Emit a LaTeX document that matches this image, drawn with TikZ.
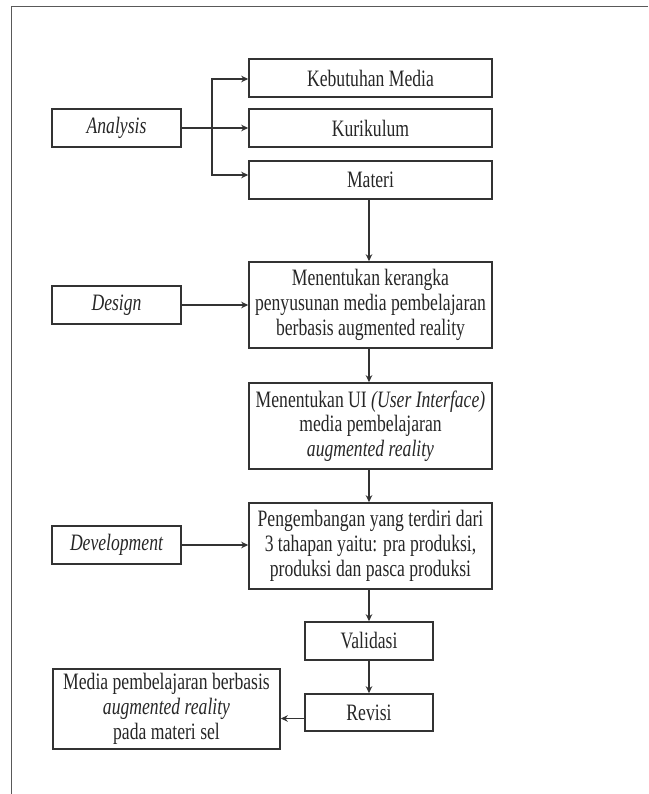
\documentclass[tikz,border=0pt]{standalone}
\usepackage{fontspec}
\setmainfont[FakeStretch=0.75]{Liberation Serif}
\usetikzlibrary{arrows.meta}
\begin{document}
\begin{tikzpicture}[x=1pt,y=-1pt,
  every node/.style={font=\fontsize{23.5pt}{24.7pt}\selectfont},
  box/.style={draw=black!80, line width=1.6pt, align=center, inner sep=1pt, text=black!85},
  sbox/.style={box, minimum width=129pt, minimum height=38pt},
  wbox/.style={box, minimum width=243pt, minimum height=38pt},
  tbox/.style={box, minimum width=243pt, minimum height=86pt},
  vbox/.style={box, minimum width=128pt, minimum height=38pt},
  conn/.style={draw=black!80, line width=1.6pt},
  arr/.style={conn, -{Stealth[length=7pt,width=6.5pt]}},
  frame/.style={draw=black!65, line width=1pt}]
\useasboundingbox (0,0) rectangle (648,794);
\coordinate (ftop) at (648,7);
\coordinate (fcorner) at (11,7);
\coordinate (fbot) at (11,794);
\draw[frame] (ftop) -- (fcorner) -- (fbot);

\node[sbox] (analysis) at (116.5,128) {\itshape Analysis};
\node[wbox] (keb) at (370.5,78) {Kebutuhan Media};
\node[wbox] (kur) at (370.5,128) {Kurikulum};
\node[wbox] (mat) at (370.5,180) {Materi};

\node[sbox] (design) at (116.5,305) {\itshape Design};
\node[tbox] (kerangka) at (370.5,305) {Menentukan kerangka\\penyusunan media pembelajaran\\berbasis augmented reality};
\node[tbox] (ui) at (370.5,426) {Menentukan UI \textit{(User Interface)}\\media pembelajaran\\\textit{augmented reality}};

\node[sbox] (dev) at (116.5,545) {\itshape Development};
\node[tbox] (peng) at (370.5,546) {Pengembangan yang terdiri dari\\3 tahapan yaitu: pra produksi,\\produksi dan pasca produksi};

\node[vbox] (val) at (369,641) {Validasi};
\node[vbox, minimum height=37pt] (rev) at (369,712.5) {Revisi};
\node[box, minimum width=227pt, minimum height=80pt] (final) at (166.5,709) {Media pembelajaran berbasis\\\textit{augmented reality}\\pada materi sel};

\coordinate (br) at (212,128);
\draw[arr] (analysis.east) -- (kur.west);
\draw[arr] (br) |- ([yshift=-1pt]keb.west);
\draw[arr] (br) |- ([yshift=5pt]mat.west);

\draw[arr] ([xshift=-1.5pt]mat.south) -- ([xshift=-1.5pt]kerangka.north);
\draw[arr] (design.east) -- (design.east -| kerangka.west);
\draw[arr] ([xshift=-1.5pt]kerangka.south) -- ([xshift=-1.5pt]ui.north);
\draw[arr] ([xshift=-1.5pt]ui.south) -- ([xshift=-1.5pt]peng.north);
\draw[arr] (dev.east) -- (dev.east -| peng.west);
\draw[arr] (peng.south -| val.north) -- (val.north);
\draw[arr] (val.south) -- (rev.north);
\draw[arr] ([yshift=-6pt]rev.west) -- ([yshift=-6pt]rev.west -| final.east);
\end{tikzpicture}
\end{document}
